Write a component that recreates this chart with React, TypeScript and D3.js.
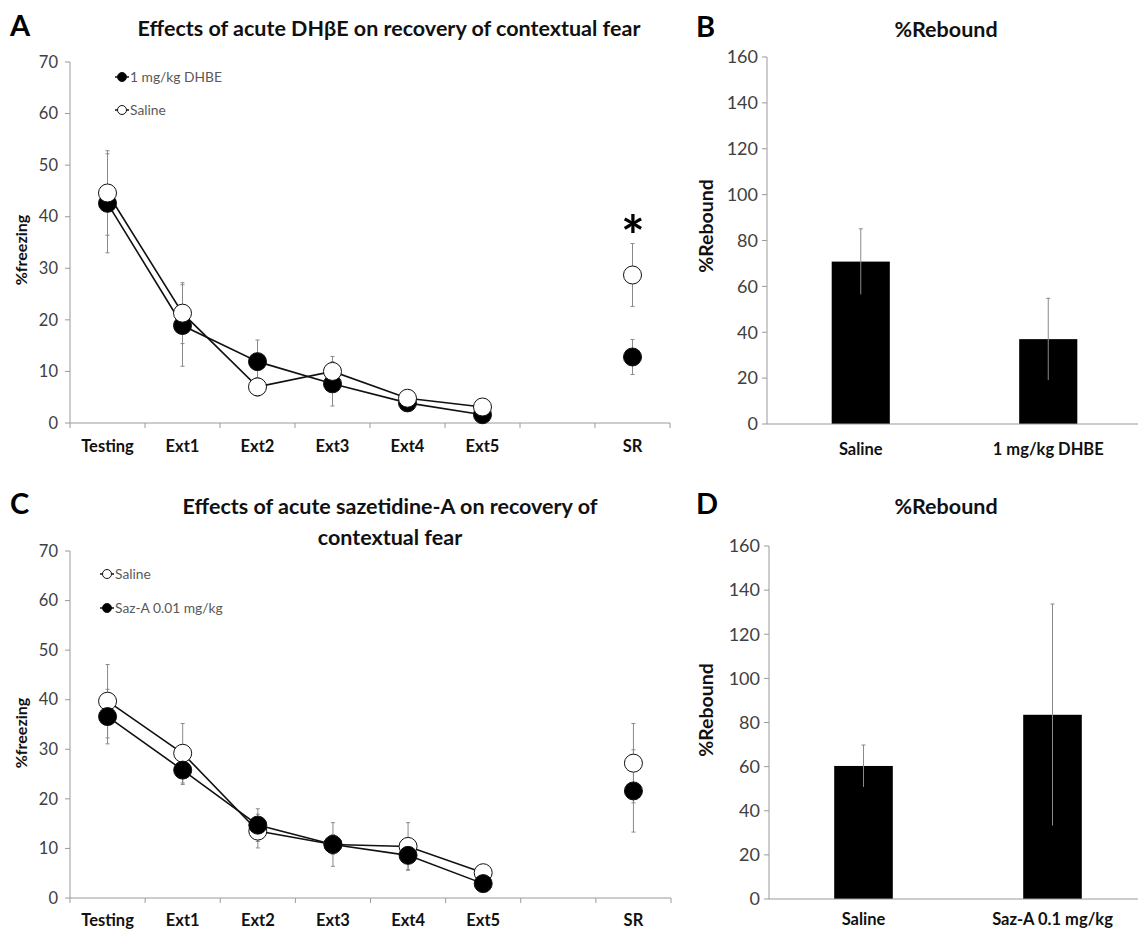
import React from "react";
import * as d3 from "d3";

const FONT = "Lato, 'Open Sans', sans-serif";

// ---------- data ----------
const sessionKeys = ["Testing", "Ext1", "Ext2", "Ext3", "Ext4", "Ext5", "gap", "SR"];
const sessionLabels = ["Testing", "Ext1", "Ext2", "Ext3", "Ext4", "Ext5", "", "SR"];
const freezeTicks = [0, 10, 20, 30, 40, 50, 60, 70];
const reboundTicks = [0, 20, 40, 60, 80, 100, 120, 140, 160];

// Panel A
const aDhbe = [42.6, 18.9, 11.9, 7.6, 3.9, 1.6, null, 12.8];
const aDhbeErr = [9.6, 7.9, 4.2, 4.3, 1.0, 0.8, null, 3.4];
const aSaline = [44.6, 21.3, 7.0, 10.0, 4.8, 3.1, null, 28.7];
const aSalineErr = [8.2, 5.9, 1.8, 2.9, 0.8, 0.8, null, 6.1];

// Panel C
const cSaline = [39.7, 29.2, 13.5, 10.8, 10.4, 5.1, null, 27.2];
const cSalineErr = [7.4, 6.0, 3.4, 2.0, 4.8, 1.0, null, 8.0];
const cSaz = [36.6, 25.8, 14.7, 10.8, 8.6, 2.9, null, 21.6];
const cSazErr = [5.5, 2.9, 3.3, 4.4, 2.9, 0.8, null, 8.3];

// Panel B
const bGroups = ["Saline", "1 mg/kg DHBE"];
const bRebound = [70.8, 37.0];
const bErr = [14.3, 17.8];

// Panel D
const dGroups = ["Saline", "Saz-A 0.1 mg/kg"];
const dRebound = [60.3, 83.5];
const dErr = [9.5, 50.2];

type Series = { values: (number | null)[]; errs: (number | null)[]; fill: string };

const AXIS = "#9a9a9a";
const TICKTXT = "#404040";
const ERR = "#8a8a8a";

function LineChart(props: {
  left: number; right: number; top: number; bottom: number;
  series: Series[]; labelY: number; ylabelX: number; ylabelY: number;
}) {
  const { left, right, top, bottom, series, labelY, ylabelX, ylabelY } = props;
  const x = d3.scaleBand<string>().domain(sessionKeys).range([left, right]).padding(0);
  const y = d3.scaleLinear().domain([0, 70]).range([bottom, top]);
  const cx = (i: number) => (x(sessionKeys[i]) as number) + x.bandwidth() / 2;
  const line = d3
    .line<number | null>()
    .defined((d) => d != null)
    .x((_, i) => cx(i))
    .y((d) => y(d as number));
  const bounds = [...sessionKeys.map((k) => x(k) as number), right];
  return (
    <g>
      <line x1={left} x2={left} y1={y(0)} y2={y(70)} stroke={AXIS} strokeWidth={1} />
      {freezeTicks.map((t) => (
        <g key={t}>
          <line x1={left - 5} x2={left} y1={y(t)} y2={y(t)} stroke={AXIS} />
          <text x={left - 12} y={y(t)} dy="0.35em" textAnchor="end" fontSize={16.5} fill={TICKTXT} fontFamily={FONT}>
            {t}
          </text>
        </g>
      ))}
      <line x1={left} x2={right} y1={y(0)} y2={y(0)} stroke={AXIS} />
      {bounds.map((b, i) => (
        <line key={i} x1={b} x2={b} y1={y(0)} y2={y(0) + 5} stroke={AXIS} />
      ))}
      {sessionLabels.map((l, i) => (
        <text key={i} x={cx(i)} y={labelY} textAnchor="middle" fontSize={16.5} fontWeight="bold" fill="#111" fontFamily={FONT}>
          {l}
        </text>
      ))}
      <text
        transform={`translate(${ylabelX},${ylabelY}) rotate(-90)`}
        textAnchor="middle"
        dy="0.35em"
        fontSize={16}
        fontWeight="bold"
        fill="#111"
        fontFamily={FONT}
      >
        %freezing
      </text>
      {series.map((s, si) => (
        <path key={si} d={line(s.values) || ""} fill="none" stroke="#111" strokeWidth={1.6} />
      ))}
      {series.map((s, si) =>
        s.values.map((v, i) =>
          v == null || s.errs[i] == null ? null : (
            <g key={`${si}-${i}`} stroke={ERR} strokeWidth={1}>
              <line x1={cx(i)} x2={cx(i)} y1={y(v + (s.errs[i] as number))} y2={y(v - (s.errs[i] as number))} />
              <line x1={cx(i) - 2} x2={cx(i) + 2} y1={y(v + (s.errs[i] as number))} y2={y(v + (s.errs[i] as number))} />
              <line x1={cx(i) - 2} x2={cx(i) + 2} y1={y(v - (s.errs[i] as number))} y2={y(v - (s.errs[i] as number))} />
            </g>
          )
        )
      )}
      {series.map((s, si) =>
        s.values.map((v, i) =>
          v == null ? null : (
            <circle key={`m${si}-${i}`} cx={cx(i)} cy={y(v)} r={9} fill={s.fill} stroke="#111" strokeWidth={1} />
          )
        )
      )}
    </g>
  );
}

function BarChart(props: {
  left: number; right: number; top: number; bottom: number;
  groups: string[]; values: number[]; errs: number[]; labelY: number;
  ylabelX: number; ylabelY: number;
}) {
  const { left, right, top, bottom, groups, values, errs, labelY, ylabelX, ylabelY } = props;
  const x = d3.scaleBand<string>().domain(groups).range([left, right]).padding(0);
  const y = d3.scaleLinear().domain([0, 160]).range([bottom, top]);
  const bw = x.bandwidth() * 0.31;
  const cx = (g: string) => (x(g) as number) + x.bandwidth() / 2;
  return (
    <g>
      <line x1={left} x2={left} y1={y(0)} y2={y(160)} stroke={AXIS} />
      {reboundTicks.map((t) => (
        <g key={t}>
          <line x1={left - 5} x2={left} y1={y(t)} y2={y(t)} stroke={AXIS} />
          <text x={left - 9} y={y(t)} dy="0.35em" textAnchor="end" fontSize={18} fill={TICKTXT} fontFamily={FONT}>
            {t}
          </text>
        </g>
      ))}
      {groups.map((g, i) => (
        <rect key={g} x={cx(g) - bw / 2} y={y(values[i])} width={bw} height={y(0) - y(values[i])} fill="#000" />
      ))}
      <line x1={left} x2={right} y1={y(0)} y2={y(0)} stroke={AXIS} />
      {groups.map((g, i) => (
        <g key={`e${g}`} stroke={ERR} strokeWidth={1}>
          <line x1={cx(g)} x2={cx(g)} y1={y(values[i] + errs[i])} y2={y(values[i] - errs[i])} />
          <line x1={cx(g) - 2} x2={cx(g) + 2} y1={y(values[i] + errs[i])} y2={y(values[i] + errs[i])} />
        </g>
      ))}
      {groups.map((g) => (
        <text key={`l${g}`} x={cx(g)} y={labelY} textAnchor="middle" fontSize={16.5} fontWeight="bold" fill="#111" fontFamily={FONT}>
          {g}
        </text>
      ))}
      <text
        transform={`translate(${ylabelX},${ylabelY}) rotate(-90)`}
        textAnchor="middle"
        dy="0.35em"
        fontSize={19.5}
        fontWeight="bold"
        fill="#111"
        fontFamily={FONT}
      >
        %Rebound
      </text>
    </g>
  );
}

function Legend(props: { x: number; y: number; fill: string; label: string }) {
  const { x, y, fill, label } = props;
  return (
    <g>
      <line x1={x - 7} x2={x + 7} y1={y} y2={y} stroke="#111" strokeWidth={1.5} />
      <circle cx={x} cy={y} r={4.5} fill={fill} stroke="#111" strokeWidth={1} />
      <text x={x + 8} y={y} dy="0.35em" fontSize={13.8} fill="#595959" fontFamily={FONT}>
        {label}
      </text>
    </g>
  );
}

export default function App() {
  return (
    <svg width={1138} height={931} style={{ position: "absolute", left: 0, top: 0, background: "#fff" }}>
      {/* Panel A */}
      <text x={10} y={36} fontSize={29} fontWeight="bold" fontFamily={FONT} fill="#000">A</text>
      <text x={389} y={36} textAnchor="middle" fontSize={21.5} fontWeight="bold" fontFamily={FONT} fill="#111">
        Effects of acute DHβE on recovery of contextual fear
      </text>
      <LineChart
        left={70} right={670} top={62} bottom={423}
        series={[
          { values: aDhbe, errs: aDhbeErr, fill: "#000" },
          { values: aSaline, errs: aSalineErr, fill: "#fff" },
        ]}
        labelY={452} ylabelX={21} ylabelY={250}
      />
      <text x={633} y={256} textAnchor="middle" fontSize={56} fontWeight="bold" fontFamily={FONT} fill="#000">*</text>
      <Legend x={122} y={77} fill="#000" label="1 mg/kg DHBE" />
      <Legend x={122} y={110} fill="#fff" label="Saline" />

      {/* Panel B */}
      <text x={696} y={37} fontSize={29} fontWeight="bold" fontFamily={FONT} fill="#000">B</text>
      <text x={946} y={37} textAnchor="middle" fontSize={21.5} fontWeight="bold" fontFamily={FONT} fill="#111">%Rebound</text>
      <BarChart
        left={767} right={1142} top={57} bottom={424}
        groups={bGroups} values={bRebound} errs={bErr}
        labelY={455} ylabelX={706} ylabelY={226}
      />

      {/* Panel C */}
      <text x={10} y={514} fontSize={29} fontWeight="bold" fontFamily={FONT} fill="#000">C</text>
      <text x={390} y={514} textAnchor="middle" fontSize={21.5} fontWeight="bold" fontFamily={FONT} fill="#111">
        Effects of acute sazetidine-A on recovery of
      </text>
      <text x={390} y={545} textAnchor="middle" fontSize={21.5} fontWeight="bold" fontFamily={FONT} fill="#111">
        contextual fear
      </text>
      <LineChart
        left={70} right={671} top={551} bottom={898}
        series={[
          { values: cSaline, errs: cSalineErr, fill: "#fff" },
          { values: cSaz, errs: cSazErr, fill: "#000" },
        ]}
        labelY={926} ylabelX={21} ylabelY={733}
      />
      <Legend x={107} y={574} fill="#fff" label="Saline" />
      <Legend x={107} y={608} fill="#000" label="Saz-A 0.01 mg/kg" />

      {/* Panel D */}
      <text x={696} y={514} fontSize={29} fontWeight="bold" fontFamily={FONT} fill="#000">D</text>
      <text x={946} y={514} textAnchor="middle" fontSize={21.5} fontWeight="bold" fontFamily={FONT} fill="#111">%Rebound</text>
      <BarChart
        left={769} right={1147} top={546} bottom={899}
        groups={dGroups} values={dRebound} errs={dErr}
        labelY={925} ylabelX={706} ylabelY={710}
      />
    </svg>
  );
}
